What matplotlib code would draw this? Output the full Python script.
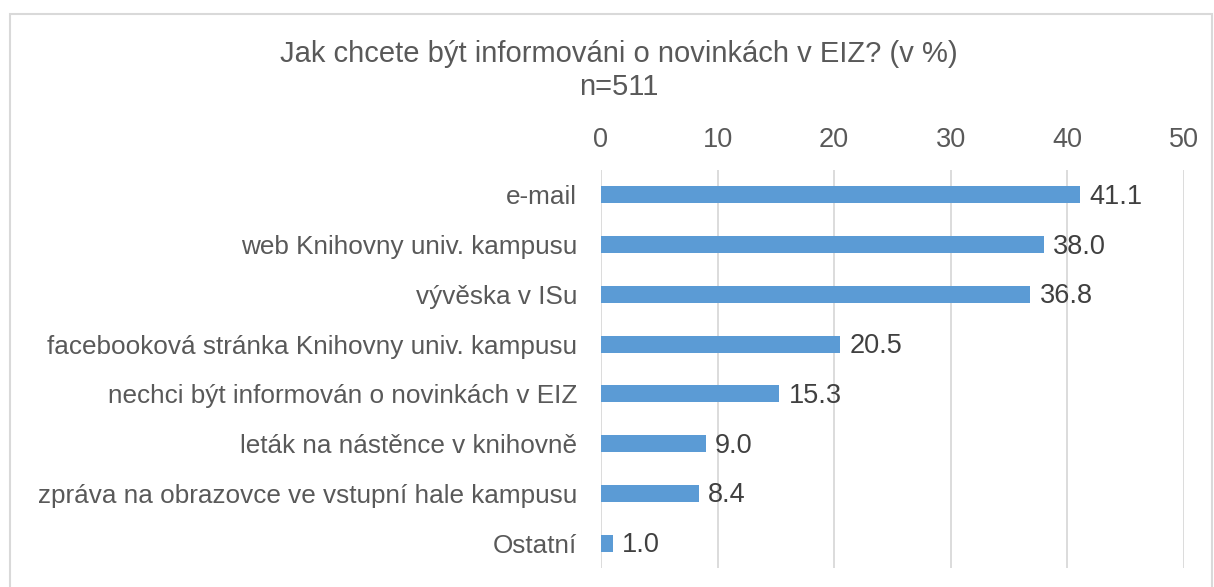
import matplotlib.pyplot as plt
from matplotlib.patches import Rectangle

plt.rcParams['font.family'] = ['Liberation Sans', 'DejaVu Sans']

kategorie = ['e-mail', 'web Knihovny univ. kampusu', 'vývěska v ISu',
             'facebooková stránka Knihovny univ. kampusu',
             'nechci být informován o novinkách v EIZ',
             'leták na nástěnce v knihovně',
             'zpráva na obrazovce ve vstupní hale kampusu', 'Ostatní']
hodnoty = [41.1, 38.0, 36.8, 20.5, 15.3, 9.0, 8.4, 1.0]
ticky = [0, 10, 20, 30, 40, 50]

fig = plt.figure(figsize=(12.14, 5.87), dpi=100)
ax = fig.add_axes([0.495, 0.0324, 0.4803, 0.678])

pozice = list(range(len(kategorie)))
ax.barh(pozice, hodnoty, height=0.34, color='#5B9BD5', zorder=3)
for p, v in zip(pozice, hodnoty):
    ax.text(v + 0.8, p + 0.04, '%.1f' % v, va='center', ha='left', fontsize=19.5, color='#404040')

ax.set_xlim(0, 50)
ax.set_ylim(7.5, -0.5)
ax.set_xticks(ticky)
ax.set_yticks(pozice)
ax.set_yticklabels(kategorie)
ax.xaxis.tick_top()
ax.tick_params(axis='x', length=0, pad=12, labelsize=19.5, labelcolor='#595959')
ax.tick_params(axis='y', length=0, pad=17, labelsize=18.8, labelcolor='#595959')
ax.grid(axis='x', color='#D9D9D9', linewidth=1.3, zorder=0)
for s in ax.spines.values():
    s.set_visible(False)

fig.text(0.51, 0.908, 'Jak chcete být informováni o novinkách v EIZ? (v %)',
         ha='center', va='center', fontsize=21, color='#595959')
fig.text(0.51, 0.852, 'n=511', ha='center', va='center', fontsize=21, color='#595959')

fig.patches.append(Rectangle((10 / 1214, -0.05), 1202 / 1214, 1 - 14 / 587 + 0.05,
                             transform=fig.transFigure, fill=False,
                             edgecolor='#D9D9D9', linewidth=1.5))

fig.savefig('out.png', dpi=100)
